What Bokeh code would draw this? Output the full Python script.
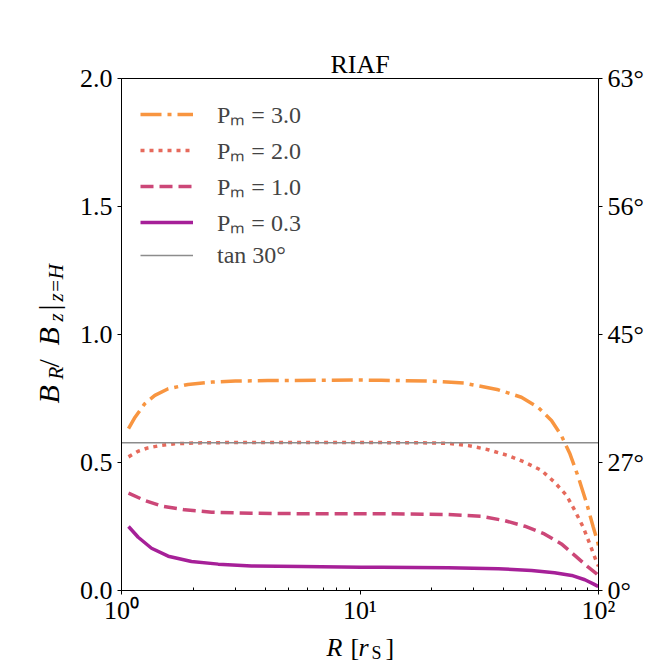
import math
from bokeh.plotting import figure
from bokeh.layouts import row, column
from bokeh.models import FixedTicker, LinearAxis, Legend, LegendItem, Range1d
from bokeh.core.properties import value
from bokeh.embed import file_html
from bokeh.resources import INLINE

# ---------------- data ----------------
r_pm30 = [1.07, 1.14, 1.25, 1.38, 1.57, 1.9, 2.4, 3.0, 4.1, 10.0, 12.3, 19.9, 27.4, 38.0,
          47.5, 55.7, 63.5, 69.9, 75.9, 82.3, 89.3, 95.1, 99.2, 100.0]
b_pm30 = [0.632, 0.677, 0.729, 0.762, 0.788, 0.805, 0.814, 0.818, 0.820, 0.822, 0.821, 0.818,
          0.810, 0.784, 0.755, 0.716, 0.664, 0.605, 0.534, 0.443, 0.339, 0.247, 0.189, 0.175]

r_pm20 = [1.07, 1.175, 1.29, 1.45, 1.67, 2.17, 3.0, 5.0, 10.0, 18.0, 23.4, 28.5, 34.5, 41.8,
          49.1, 57.7, 65.4, 73.5, 79.5, 86.3, 91.9, 98.3, 100.0]
b_pm20 = [0.522, 0.544, 0.557, 0.566, 0.573, 0.577, 0.578, 0.578, 0.578, 0.577, 0.575, 0.566,
          0.550, 0.527, 0.501, 0.469, 0.423, 0.371, 0.313, 0.247, 0.182, 0.110, 0.095]

r_pm10 = [1.07, 1.25, 1.47, 1.84, 2.39, 3.51, 5.68, 10.1, 12.3, 23.4, 32.3, 40.4, 49.1, 59.3,
          69.9, 79.5, 90.6, 98.3, 100.0]
b_pm10 = [0.380, 0.352, 0.330, 0.315, 0.306, 0.302, 0.300, 0.300, 0.300, 0.297, 0.290, 0.273,
          0.251, 0.221, 0.182, 0.137, 0.091, 0.065, 0.058]

r_pm03 = [1.07, 1.175, 1.336, 1.57, 1.965, 2.545, 3.51, 5.68, 10.1, 12.3, 23.4, 38.0, 52.4,
          65.4, 77.2, 87.7, 95.1, 99.6, 100.0]
b_pm03 = [0.250, 0.208, 0.165, 0.134, 0.113, 0.103, 0.096, 0.094, 0.091, 0.091, 0.089, 0.085,
          0.078, 0.069, 0.059, 0.042, 0.026, 0.016, 0.014]

series_labels = ["Pₘ = 3.0", "Pₘ = 2.0", "Pₘ = 1.0", "Pₘ = 0.3"]
ref_angle_deg = 30
ref_label = "tan 30°"

x_ticks = [1, 10, 100]
x_tick_labels = ["10⁰", "10¹", "10²"]
y_ticks = [0.0, 0.5, 1.0, 1.5, 2.0]
y_tick_labels = ["0.0", "0.5", "1.0", "1.5", "2.0"]
right_tick_labels = ["0°", "27°", "45°", "56°", "63°"]
title_text = "RIAF"

# ---------------- layout / styles ----------------
FONT = "Liberation Serif"
colors = ["#f89540", "#e66a5c", "#cc4778", "#a62098"]
dashes = ["21 6 4 6", "4 5", "13 6", "solid"]
LW = 3.5
W = H = 664
YLAB_W = 76            # strip holding the y-axis label
FL, FT, FW, FH = 120, 78, 477, 512   # frame position / size on the page
BOTTOM = 38            # main figure's bottom border
MAIN_H = FT + FH + BOTTOM
XLAB_H = H - MAIN_H    # strip holding the x-axis label
BASE_SHIFT = 0.3       # text glyphs sit this many em below the requested baseline

p = figure(x_axis_type="log", x_range=Range1d(x_ticks[0], x_ticks[-1]),
           y_range=Range1d(y_ticks[0], y_ticks[-1]),
           frame_width=FW, frame_height=FH,
           min_border_left=FL - YLAB_W, min_border_right=W - FL - FW,
           min_border_top=FT, min_border_bottom=BOTTOM,
           output_backend="svg", toolbar_location=None, title=title_text)
p.background_fill_color = "white"
p.border_fill_color = "white"
p.grid.visible = False
p.outline_line_color = "black"
p.outline_line_width = 1
p.outline_line_alpha = 1

p.title.align = "center"
p.title.text_font = FONT
p.title.text_font_size = "26px"
p.title.text_font_style = "normal"
p.title.text_color = "black"
p.title.standoff = 0

xa = p.xaxis[0]
xa.ticker = FixedTicker(ticks=x_ticks,
                        minor_ticks=[m * d for d in x_ticks[:-1] for m in range(2, 10)])
xa.major_label_overrides = {t: l for t, l in zip(x_ticks, x_tick_labels)}
ya = p.yaxis[0]
ya.ticker = FixedTicker(ticks=y_ticks, minor_ticks=[])
ya.major_label_overrides = {t: l for t, l in zip(y_ticks, y_tick_labels)}
ra = LinearAxis(ticker=FixedTicker(ticks=y_ticks, minor_ticks=[]))
ra.major_label_overrides = {t: l for t, l in zip(y_ticks, right_tick_labels)}
p.add_layout(ra, "right")

for ax in (xa, ya, ra):
    ax.axis_label = None
    ax.axis_line_color = "black"
    ax.major_tick_line_color = "black"
    ax.minor_tick_line_color = "black"
    ax.major_tick_in = 0
    ax.major_tick_out = 4
    ax.minor_tick_in = 3
    ax.minor_tick_out = 0
    ax.major_label_text_font = FONT
    ax.major_label_text_font_size = "26px"
    ax.major_label_text_color = "black"
    ax.major_label_standoff = 5
xa.major_label_standoff = 1

renderers = []
for rr, bb, c, d in zip([r_pm30, r_pm20, r_pm10, r_pm03], [b_pm30, b_pm20, b_pm10, b_pm03],
                        colors, dashes):
    renderers.append(p.line(rr, bb, line_color=c, line_width=LW, line_dash=d, line_cap="butt"))
tan_ref = math.tan(math.radians(ref_angle_deg))
renderers.append(p.line([x_ticks[0], x_ticks[-1]], [tan_ref, tan_ref],
                        line_color="#8c8c8c", line_width=1.6))

legend = Legend(items=[LegendItem(label=l, renderers=[r])
                       for l, r in zip(series_labels + [ref_label], renderers)],
                location="top_left", margin=19, padding=0, spacing=3,
                glyph_width=53, glyph_height=28, label_height=28, label_standoff=24,
                label_text_font=FONT, label_text_font_size="24px",
                background_fill_alpha=0, border_line_alpha=0)
p.add_layout(legend)


# ---------------- strips holding the composed axis labels ----------------
def strip(w, h, xr, yr):
    f = figure(width=w, height=h, x_range=xr, y_range=yr,
               min_border=0, x_axis_location=None, y_axis_location=None,
               output_backend="svg", toolbar_location=None)
    f.grid.visible = False
    f.outline_line_color = None
    f.background_fill_color = "white"
    f.border_fill_color = "white"
    return f


def put(f, x, y, text, size_px, style="normal", angle=0.0):
    f.text(x=[x], y=[y], text=[text], angle=angle,
           text_font=value(FONT), text_font_size=value(f"{size_px}px"), text_font_style=style,
           text_color="black", text_align="left", text_baseline="alphabetic")


# y label strip: its frame is aligned with the main frame (page y FT .. FT+FH)
ylab = strip(YLAB_W, MAIN_H, Range1d(0, YLAB_W), Range1d(0, FH))
A = math.pi / 2
for px, py, t, s, st in [(57, 403, "B", 30, "italic"),
                         (62, 379, "R", 21, "italic"),
                         (57, 367, "/", 30, "normal"),
                         (57, 345, "B", 30, "italic"),
                         (62, 321, "z", 21, "italic"),
                         (57, 310, "|", 30, "normal"),
                         (62, 301, "z=H", 21, "italic")]:
    put(ylab, px - BASE_SHIFT * s, FT + FH - py, t, s, st, A)

# x label strip (page y MAIN_H .. H)
xlab = strip(W, XLAB_H, Range1d(0, W), Range1d(0, XLAB_H))
for px, py, t, s, st in [(326, 655, "R", 26, "italic"),
                         (350, 655, "[", 26, "normal"),
                         (358, 655, "r", 26, "italic"),
                         (371, 658, "S", 18, "normal"),
                         (385, 655, "]", 26, "normal")]:
    put(xlab, px, H - py + BASE_SHIFT * s, t, s, st)

layout = column(row(ylab, p, spacing=0), xlab, spacing=0)
open("out.html", "w").write(file_html(layout, INLINE))
